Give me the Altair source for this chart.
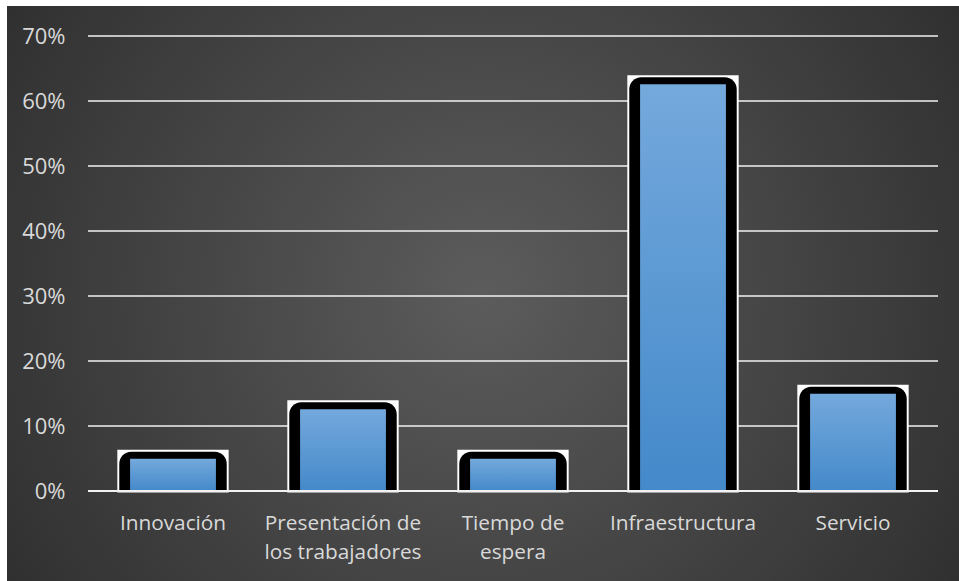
import altair as alt
import pandas as pd

categories = ["Innovación", "Presentación de\nlos trabajadores", "Tiempo de\nespera", "Infraestructura", "Servicio"]
values = [0.055, 0.131, 0.055, 0.631, 0.155]
grid_values = [0.1, 0.2, 0.3, 0.4, 0.5, 0.6, 0.7]

df = pd.DataFrame({"cat": categories, "v": values, "zero": [0.0] * len(values)})

FONT = "Open Sans"
LABEL_COLOR = "#d9d9d9"

y_scale = alt.Scale(domain=[0, 0.7], nice=False)
y_axis = alt.Axis(format=".0%", values=[0, 0.1, 0.2, 0.3, 0.4, 0.5, 0.6, 0.7],
                  labelPadding=23, zindex=1, labelFontSize=22)

x_enc = alt.X("cat:N", sort=None, title=None,
              scale=alt.Scale(paddingInner=0, paddingOuter=0),
              axis=alt.Axis(labelExpr="split(datum.value, '\\n')", labelAngle=0, zindex=1,
                            labelPadding=22, labelLineHeight=29, labelLimit=300, labelFontSize=20.8))
y_enc = alt.Y("v:Q", title=None, scale=y_scale, axis=y_axis)

bg = alt.Chart(pd.DataFrame({"a": [0]})).mark_rect(
    clip=False,
    fill=alt.RadialGradient(
        gradient="radial",
        stops=[alt.GradientStop(color="#5c5c5c", offset=0),
               alt.GradientStop(color="#262626", offset=1)],
        x1=0.5, y1=0.5, r1=0, x2=0.5, y2=0.5, r2=0.72),
).encode(x=alt.value(-81), x2=alt.value(871), y=alt.value(-30), y2=alt.value(545))

base = alt.Chart(df).encode(x=x_enc, y=y_enc, y2=alt.Y2("zero:Q"))

white = base.mark_bar(width=alt.RelativeBandSize(0.655), color="white", yOffset=-5.5, y2Offset=1.5)
black = base.mark_bar(width=alt.RelativeBandSize(0.632), color="black", yOffset=-3.5,
                      cornerRadiusTopLeft=12, cornerRadiusTopRight=12)
blue = base.mark_bar(
    width=alt.RelativeBandSize(0.505), yOffset=3.5,
    color=alt.Gradient(gradient="linear",
                       stops=[alt.GradientStop(color="#74a9dc", offset=0),
                              alt.GradientStop(color="#4489ca", offset=1)],
                       x1=0, x2=0, y1=0, y2=1))

grid = alt.Chart(pd.DataFrame({"v": grid_values})).mark_rule(
    color="#f2f2f2", strokeWidth=1.5
).encode(y=alt.Y("v:Q", title=None, scale=y_scale, axis=y_axis),
         x=alt.value(0), x2=alt.value(850))

zero_line = alt.Chart(pd.DataFrame({"v": [0.0]})).mark_rule(
    color="#f2f2f2", strokeWidth=2
).encode(y=alt.Y("v:Q", title=None, scale=y_scale, axis=y_axis),
         x=alt.value(0), x2=alt.value(850))

chart = alt.layer(bg, grid, white, black, blue, zero_line).properties(
    width=850, height=455,
    autosize=alt.AutoSizeParams(type="none"),
    padding={"left": 88, "top": 36, "right": 21, "bottom": 90},
    background="white",
).configure_view(stroke=None).configure_axis(
    grid=False, domain=False, ticks=False,
    labelFont=FONT, labelColor=LABEL_COLOR,
)

chart.save("out.html", embed_options={"renderer": "svg", "actions": False})
